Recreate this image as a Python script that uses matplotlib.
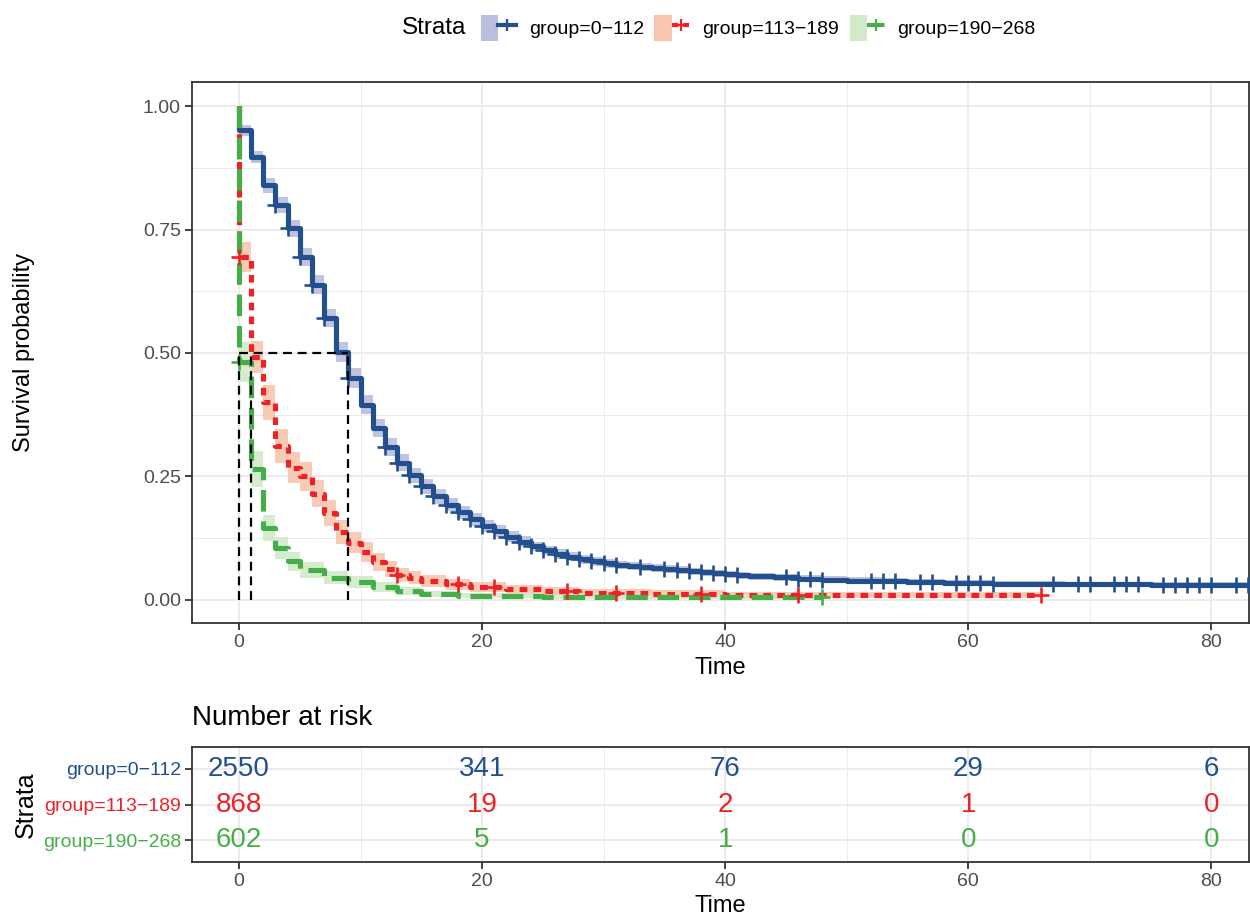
import numpy as np
import matplotlib
matplotlib.use("Agg")
import matplotlib.pyplot as plt
from matplotlib.patches import Patch
from matplotlib.lines import Line2D
from matplotlib.legend_handler import HandlerTuple
from matplotlib.ticker import MultipleLocator

plt.rcParams['font.family'] = ['Liberation Sans', 'DejaVu Sans']

group_labels = ["group=0\u2212112", "group=113\u2212189", "group=190\u2212268"]
line_colors = ["#22508F", "#EC2227", "#45AE48"]
band_colors = ["#BBBEDC", "#F8C6AE", "#D2EACA"]

# Kaplan-Meier steps: time of each step and survival right after it
blue_time = [0, 0, 1, 2, 3, 4, 5, 6, 7, 8, 9, 10, 11, 12, 13, 14, 15, 16, 17, 18, 19, 20,
             21, 22, 23, 24, 25, 26, 27, 28, 29, 30, 31, 32, 33, 34, 35, 36, 37, 38, 39, 40,
             41, 42, 44, 46, 48, 50, 53, 55, 58, 62, 68, 75, 84]
blue_surv = [1.000, 0.951,
             0.897, 0.840, 0.800, 0.753, 0.694, 0.638, 0.571, 0.502, 0.449, 0.395,
             0.348, 0.310, 0.278, 0.252, 0.230, 0.210, 0.193, 0.177, 0.163, 0.150,
             0.139, 0.128, 0.118, 0.108, 0.100, 0.093, 0.087, 0.082, 0.078, 0.074,
             0.071, 0.068, 0.066, 0.064, 0.062, 0.060, 0.058, 0.056, 0.054, 0.052,
             0.050, 0.048,
             0.046, 0.043, 0.041, 0.039, 0.038, 0.036, 0.034, 0.032, 0.031, 0.030, 0.030]
blue_ci = [0.000, 0.011,
           0.013, 0.015, 0.016, 0.017, 0.018, 0.019, 0.019, 0.020, 0.020, 0.019,
           0.019, 0.018, 0.017, 0.016, 0.015, 0.015, 0.014, 0.013, 0.013, 0.012,
           0.012, 0.011, 0.011, 0.010, 0.010, 0.010, 0.009, 0.009, 0.009, 0.009,
           0.008, 0.008, 0.008, 0.008, 0.008, 0.008, 0.007, 0.007, 0.007, 0.007,
           0.007, 0.007,
           0.007, 0.007, 0.007, 0.007, 0.007, 0.007, 0.006, 0.006, 0.006, 0.006, 0.006]
blue_censor = [3, 4, 5, 6, 7, 9, 12, 13, 14, 15, 16, 17, 18, 19, 20, 21, 22, 23, 24, 25,
               26, 27, 28, 29, 30, 31, 33, 35, 36, 37, 38, 39, 40, 41, 45, 46, 47, 48,
               52, 53, 54, 56, 57, 59, 60, 61, 62, 67, 69, 70, 72, 73, 74, 76, 77, 78,
               79, 80, 82, 83]

red_time = [0, 0, 1, 2, 3, 4, 5, 6, 7, 8, 9, 10, 11, 12, 13, 14, 15, 17, 19, 22, 25, 28,
            34, 40, 66]
red_surv = [1.000, 0.695, 0.492, 0.400, 0.312, 0.268, 0.250, 0.215, 0.176, 0.138, 0.116,
            0.097, 0.077, 0.062, 0.051, 0.045, 0.038, 0.031, 0.026, 0.021, 0.017, 0.014,
            0.012, 0.010, 0.010]
red_ci = [0.000, 0.030, 0.032, 0.036, 0.034, 0.032, 0.030, 0.028, 0.026, 0.024, 0.022,
          0.020, 0.018, 0.016, 0.014, 0.013, 0.012, 0.011, 0.010, 0.009, 0.008, 0.007,
          0.007, 0.006, 0.006]
red_censor = [0, 13, 18, 21, 27, 31, 38, 46, 66]

green_time = [0, 0, 1, 2, 3, 4, 5, 7, 9, 11, 13, 15, 18, 25, 48]
green_surv = [1.000, 0.482, 0.265, 0.145, 0.105, 0.078, 0.060, 0.045, 0.036, 0.026,
              0.018, 0.011, 0.008, 0.006, 0.006]
green_ci = [0.000, 0.040, 0.036, 0.026, 0.022, 0.019, 0.016, 0.014, 0.012, 0.010,
            0.008, 0.006, 0.005, 0.004, 0.004]
green_censor = [0, 48]

# Number at risk table
risk_times = [0, 20, 40, 60, 80]
risk_blue = [2550, 341, 76, 29, 6]
risk_red = [868, 19, 2, 1, 0]
risk_green = [602, 5, 1, 0, 0]

line_styles = ["-", (0, (1.5, 1.2)), (0, (4.2, 1.9))]
curves = [
    (blue_time, blue_surv, blue_ci, blue_censor),
    (red_time, red_surv, red_ci, red_censor),
    (green_time, green_surv, green_ci, green_censor),
]
risk_rows = [risk_blue, risk_red, risk_green]

W, H = 1250, 918
fig = plt.figure(figsize=(W / 100, H / 100), dpi=100)

def fig_rect(left, top, right, bottom):
    return [left / W, 1 - bottom / H, (right - left) / W, (bottom - top) / H]

ax = fig.add_axes(fig_rect(192, 82, 1249, 623))
ax_r = fig.add_axes(fig_rect(192, 747, 1249, 862))

XMIN, XMAX = -3.87, 83.1
grid_col = "#EBEBEB"
spine_col = "#333333"
tick_txt = "#4D4D4D"

def style_axes(a):
    a.set_facecolor("white")
    for s in a.spines.values():
        s.set_color(spine_col)
        s.set_linewidth(1.3)
    a.tick_params(axis="both", which="major", length=5, width=1.3, color=spine_col,
                  labelcolor=tick_txt, labelsize=14, pad=3)
    a.tick_params(axis="both", which="minor", length=0)
    a.grid(True, which="major", color=grid_col, lw=1.4, zorder=0)
    a.grid(True, which="minor", color=grid_col, lw=0.7, zorder=0)
    a.set_axisbelow(True)

# ---- survival curves ----
for (t, s, ci, cens), bc in zip(curves, band_colors):
    t = np.asarray(t, float)
    s = np.asarray(s, float)
    ci = np.asarray(ci, float)
    ax.fill_between(t, s - ci, s + ci, step="post", color=bc, lw=0, alpha=0.9, zorder=2)

for (t, s, ci, cens), lc, ls in zip(curves, line_colors, line_styles):
    t = np.asarray(t, float)
    s = np.asarray(s, float)
    ax.plot(t, s, drawstyle="steps-post", color=lc, lw=3.7, ls=ls, zorder=3,
            solid_capstyle="butt", dash_capstyle="butt")
    cens = np.asarray(cens, float)
    idx = np.searchsorted(t, cens, side="right") - 1
    ax.plot(cens, s[idx], ls="none", marker="+", ms=12, mew=1.9, color=lc, zorder=4)

# median survival guides
medians = []
for (t, s, ci, cens) in curves:
    s = np.asarray(s, float)
    k = np.argmax(s <= 0.5)
    medians.append(t[k])
ax.plot([0, max(medians)], [0.5, 0.5], color="black", lw=1.6, ls=(0, (4, 2.6)), zorder=5)
for m in medians:
    ax.plot([m, m], [0, 0.5], color="black", lw=1.6, ls=(0, (4, 2.6)), zorder=5)

ax.set_xlim(XMIN, XMAX)
ax.set_ylim(-0.047, 1.049)
ax.set_yticks([0, 0.25, 0.5, 0.75, 1.0])
ax.set_yticklabels(["0.00", "0.25", "0.50", "0.75", "1.00"])
ax.set_xticks([0, 20, 40, 60, 80])
ax.xaxis.set_minor_locator(MultipleLocator(10))
ax.yaxis.set_minor_locator(MultipleLocator(0.125))
style_axes(ax)
ax.set_xlabel("Time", fontsize=17, color="black")
ax.xaxis.set_label_coords(0.5, -(657 - 623) / (623 - 82))
ax.set_ylabel("Survival probability", fontsize=17, color="black")
ax.yaxis.set_label_coords(-(192 - 35) / (1249 - 192), 0.5)

# ---- legend ----
handles = []
for lc, bc, ls in zip(line_colors, band_colors, line_styles):
    handles.append((Patch(facecolor=bc, edgecolor="none"),
                    Line2D([], [], color=lc, lw=3.0, ls=ls, marker="+", ms=9, mew=1.6)))
fig.text(402 / W, 1 - 28 / H, "Strata", fontsize=17.5, va="center", ha="left")
fig.legend(handles, group_labels, handler_map={tuple: HandlerTuple(ndivide=None)},
           loc="center left", bbox_to_anchor=(481 / W, 1 - 28 / H), ncol=3,
           frameon=False, fontsize=14, handlelength=1.8, handleheight=1.7,
           handletextpad=0.65, columnspacing=0.55, borderpad=0, borderaxespad=0)

# ---- number at risk table ----
ypos = [3, 2, 1]
for row, y, lc in zip(risk_rows, ypos, line_colors):
    for tt, n in zip(risk_times, row):
        ax_r.text(tt, y, str(n), color=lc, fontsize=20, ha="center", va="center")
ax_r.set_xlim(XMIN, XMAX)
ax_r.set_ylim(0.4, 3.6)
ax_r.set_yticks(ypos)
ax_r.set_yticklabels(group_labels)
ax_r.set_xticks(risk_times)
ax_r.xaxis.set_minor_locator(MultipleLocator(10))
style_axes(ax_r)
for lab, lc in zip(ax_r.get_yticklabels(), line_colors):
    lab.set_color(lc)
ax_r.set_xlabel("Time", fontsize=17, color="black")
ax_r.xaxis.set_label_coords(0.5, -(895 - 862) / (862 - 747))
ax_r.set_ylabel("Strata", fontsize=18, color="black")
ax_r.yaxis.set_label_coords(-(192 - 38) / (1249 - 192), 0.5)
ax_r.text(0.0, 1 + (747 - 718) / (862 - 747), "Number at risk", transform=ax_r.transAxes,
          fontsize=20, ha="left", va="center")

fig.savefig("out.png", dpi=100, facecolor="white")
